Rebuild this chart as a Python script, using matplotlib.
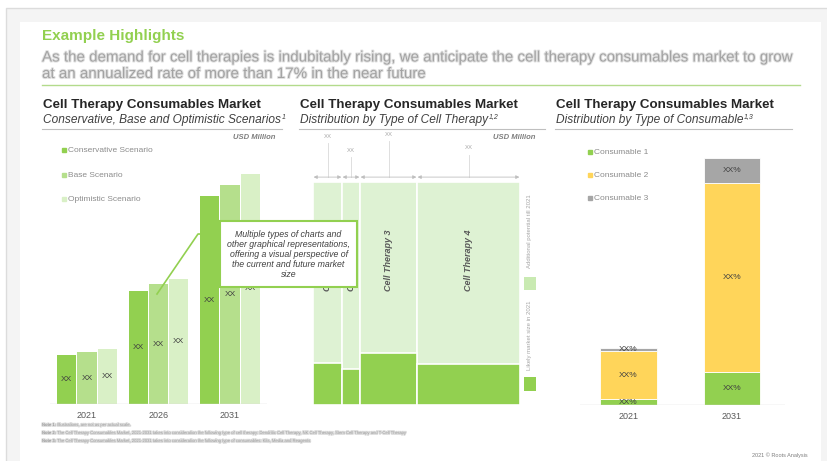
import matplotlib
matplotlib.use("Agg")
import matplotlib.pyplot as plt
import matplotlib.patheffects as pe
from matplotlib.patches import Rectangle
import numpy as np

plt.rcParams['font.family'] = ['Liberation Sans', 'DejaVu Sans']

W, H = 827, 461

# --- chart 1: scenarios (USD million, illustrative)
years = ['2021', '2026', '2031']
scenarios = ['Conservative Scenario', 'Base Scenario', 'Optimistic Scenario']
conservative = [49, 113, 208]
base = [52, 120, 219]
optimistic = [55, 125, 230]
scenario_labels = ['XX', 'XX', 'XX']

# --- chart 2: distribution by type of cell therapy (mekko)
therapies = ['Cell Therapy 1', 'Cell Therapy 2', 'Cell Therapy 3', 'Cell Therapy 4']
therapy_size = [29, 18, 57, 103]
likely_share_2021 = [0.19, 0.16, 0.235, 0.185]
therapy_labels = ['XX', 'XX', 'XX', 'XX']

# --- chart 3: distribution by type of consumable
cons_years = ['2021', '2031']
consumables = ['Consumable 1', 'Consumable 2', 'Consumable 3']
consumable_1 = [6, 33]
consumable_2 = [48, 189]
consumable_3 = [3, 25]

GREEN = '#92d050'
scen_colors = [GREEN, '#b5df8c', '#d9f0c6']
cons_colors = [GREEN, '#ffd55a', '#a6a6a6']
LIGHT = '#def2d3'
DARK_TXT = '#262626'
MID_TXT = '#404040'
GREY_TXT = '#8c8c8c'


def px_axes(x0, y0, x1, y1, **kw):
    return fig.add_axes([x0 / W, 1 - y1 / H, (x1 - x0) / W, (y1 - y0) / H], **kw)


blur = [pe.Stroke(linewidth=1.4, foreground='#e0e0e0'), pe.Normal()]

fig = plt.figure(figsize=(W / 100, H / 100), dpi=100)
fig.patch.set_facecolor('white')

# background / slide frame, pixel coordinates
bg = px_axes(0, 0, W, H)
bg.set_xlim(0, W)
bg.set_ylim(H, 0)
bg.axis('off')
bg.add_patch(Rectangle((6, 8), W, H, facecolor='#f4f4f4', edgecolor='#dcdcdc', lw=1))
bg.add_patch(Rectangle((20, 22), 801, H, facecolor='white', edgecolor='none'))

bg.text(42, 36, 'Example Highlights', fontsize=11, fontweight='bold', color=GREEN, va='center')
bg.text(42, 57.5, 'As the demand for cell therapies is indubitably rising, we anticipate the cell therapy '
        'consumables market to grow', fontsize=10.9, color='#a3a3a3', va='center', path_effects=blur)
bg.text(42, 74, 'at an annualized rate of more than 17% in the near future', fontsize=10.9,
        color='#a3a3a3', va='center', path_effects=blur)
bg.plot([42, 800], [85, 85], color='#b3db8c', lw=1)

# chart headers
sub_texts = ['Conservative, Base and Optimistic Scenarios', 'Distribution by Type of Cell Therapy',
             'Distribution by Type of Consumable']
sups = ['1', '1,2', '1,3']
for x0, x1, sub, sup in zip([42, 299, 555], [282, 545, 792], sub_texts, sups):
    bg.text(x0 + 1, 105, 'Cell Therapy Consumables Market', fontsize=9.6, fontweight='bold',
            color=DARK_TXT, va='center')
    t = bg.text(x0 + 1, 119.5, sub, fontsize=8.6, style='italic', color=MID_TXT, va='center')
    bg.annotate(sup, xy=(1, 1), xycoords=t, fontsize=5, style='italic', color=MID_TXT,
                va='top', ha='left', xytext=(0.5, 0), textcoords='offset points')
    bg.plot([x0, x1], [129, 129], color='#bfbfbf', lw=0.8)
for xr in [275, 535]:
    bg.text(xr, 137, 'USD Million', fontsize=5.5, fontweight='bold', style='italic',
            color='#7f7f7f', ha='right', va='center')

# legends
for name, col, yy in zip(scenarios, scen_colors, [150, 175, 199]):
    bg.plot(63.5, yy, marker='s', ms=2.3, color=col)
    bg.text(67.5, yy, name, fontsize=6, color=GREY_TXT, va='center')
for name, col, yy in zip(consumables, cons_colors, [152, 175, 198]):
    bg.plot(589.5, yy, marker='s', ms=2.3, color=col)
    bg.text(593.5, yy, name, fontsize=6, color=GREY_TXT, va='center')

# mekko legend
bg.text(530, 231, 'Additional potential till 2021', fontsize=4.3, color='#a6a6a6', rotation=90,
        ha='center', va='center')
bg.add_patch(Rectangle((524, 277), 12, 13, facecolor='#c9eab2', edgecolor='none'))
bg.text(530, 335, 'Likely market size in 2021', fontsize=4.3, color='#a6a6a6', rotation=90,
        ha='center', va='center')
bg.add_patch(Rectangle((524, 377), 12, 14, facecolor=GREEN, edgecolor='none'))

# notes
notes = [('Note 1:', ' Illustrations, are not as per actual scale.'),
         ('Note 2:', ' The Cell Therapy Consumables Market, 2021-2031 takes into consideration the following '
                     'type of cell therapy: Dendritic Cell Therapy, NK Cell Therapy, Stem Cell Therapy and T-Cell Therapy'),
         ('Note 3:', ' The Cell Therapy Consumables Market, 2021-2031 takes into consideration the following '
                     'type of consumables: Kits, Media and Reagents')]
for (b, rest), yy in zip(notes, [425, 433, 441]):
    tb = bg.text(42, yy, b, fontsize=3.0, fontweight='bold', color='#9a9a9a', va='center',
                 path_effects=blur)
    bg.annotate(rest, xy=(1, 0.5), xycoords=tb, fontsize=3.0, color='#9a9a9a', va='center',
                path_effects=blur)
bg.text(808, 455, '2021 \u00a9 Roots Analysis', fontsize=4, color='#7f7f7f', ha='right', va='center')

# ---------------- chart 1
ax1 = px_axes(50, 140, 267, 404)
x = np.arange(len(years))
step = 0.283
for i, (vals, col) in enumerate(zip([conservative, base, optimistic], scen_colors)):
    pos = x + (i - 1) * step
    ax1.bar(pos, vals, width=0.27, color=col)
    for p, v, lab in zip(pos, vals, scenario_labels):
        ax1.text(p, v / 2, lab, ha='center', va='center', fontsize=6, color=MID_TXT)
ax1.set_xlim(-0.517, 2.518)
ax1.set_ylim(0, 264)
ax1.axhline(0, color='#d9d9d9', lw=1)
ax1.set_xticks(x, years)
ax1.set_yticks([])
ax1.tick_params(axis='x', length=0, pad=5, labelsize=6.5, labelcolor='#595959')
for s in ax1.spines.values():
    s.set_visible(False)
ax1.patch.set_alpha(0)

# ---------------- chart 2 (mekko)
ax2 = px_axes(313, 130, 520, 405)
lefts = np.concatenate([[0], np.cumsum(therapy_size)[:-1]])
ax2.bar(lefts, [1] * len(therapies), width=therapy_size, align='edge', color=LIGHT,
        edgecolor='white', lw=1.2)
ax2.bar(lefts, likely_share_2021, width=therapy_size, align='edge', color=GREEN,
        edgecolor='white', lw=1.2)
ya = 1.022
label_y = [1.193, 1.130, 1.202, 1.143]
for l, w, name, lab, ly in zip(lefts, therapy_size, therapies, therapy_labels, label_y):
    c = l + w / 2
    ax2.annotate('', xy=(l + 0.6, ya), xytext=(l + w - 0.6, ya),
                 arrowprops=dict(arrowstyle='<|-|>', color='#bfbfbf', lw=0.6, mutation_scale=5,
                                 shrinkA=0, shrinkB=0))
    ax2.plot([c, c], [ya, ly - 0.02], color='#d9d9d9', lw=0.6)
    ax2.text(c, ly, lab, fontsize=4.3, color='#a6a6a6', ha='center', va='bottom')
    ax2.text(c, 0.65, name, rotation=90, fontsize=6.5, fontweight='bold', style='italic',
             color='#595959', ha='center', va='center')
ax2.set_xlim(0, sum(therapy_size))
ax2.set_ylim(0, 275 / 223)
ax2.axis('off')

# ---------------- chart 3
ax3 = px_axes(580, 140, 785, 405)
x3 = np.arange(len(cons_years))
bottom = np.zeros(len(cons_years))
for vals, col in zip([consumable_1, consumable_2, consumable_3], cons_colors):
    ax3.bar(x3, vals, bottom=bottom, width=0.55, color=col, edgecolor='white', lw=0.6)
    for p, b, v in zip(x3, bottom, vals):
        ax3.text(p, b + v / 2, 'XX%', ha='center', va='center', fontsize=6, color=MID_TXT)
    bottom += vals
ax3.set_xlim(-0.469, 1.512)
ax3.set_ylim(0, 265)
ax3.axhline(0, color='#d9d9d9', lw=1)
ax3.set_xticks(x3, cons_years)
ax3.set_yticks([])
ax3.tick_params(axis='x', length=0, pad=5, labelsize=6.5, labelcolor='#595959')
for s in ax3.spines.values():
    s.set_visible(False)
ax3.patch.set_alpha(0)

# ---------------- callout overlay
top = px_axes(0, 0, W, H, zorder=10)
top.set_xlim(0, W)
top.set_ylim(H, 0)
top.axis('off')
top.patch.set_alpha(0)
top.plot([220, 198, 157], [234, 234, 294], color=GREEN, lw=1.2)
top.add_patch(Rectangle((220, 221), 137, 66, facecolor='white', edgecolor=GREEN, lw=1.5))
callout = ['Multiple types of charts and', 'other graphical representations,',
           'offering a visual perspective of', 'the current and future market', 'size']
for k, line in enumerate(callout):
    top.text(288.5, 234 + k * 10, line, fontsize=6.3, style='italic', color=MID_TXT,
             ha='center', va='center')

fig.savefig('out.png', dpi=100)
